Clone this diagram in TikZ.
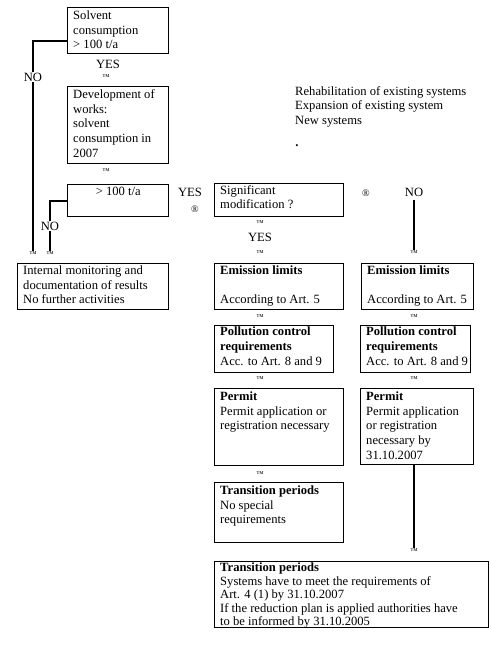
\documentclass[tikz,border=0pt]{standalone}
\usepackage{fontspec}
\setmainfont{Liberation Serif}
\usetikzlibrary{positioning}

\begin{document}
\begin{tikzpicture}[x=1pt, y=-1pt,
    every node/.style={font=\fontsize{12.6}{14.7}\selectfont},
    bx/.style={draw, line width=1.4pt, anchor=north west, inner sep=0pt},
    txt/.style={anchor=north west, align=left, inner xsep=6pt, inner ysep=3.5pt, execute at begin node=\strut},
    lbl/.style={inner sep=1pt, fill=white},
    tm/.style={inner sep=0.5pt, font=\fontsize{7.5}{8}\selectfont},
    rg/.style={inner sep=0.5pt, font=\fontsize{10}{11}\selectfont},
    conn/.style={line width=1.7pt}]
  \useasboundingbox (0,0) rectangle (490,645);

  % left column
  \node[bx, minimum width=101, minimum height=46] (solvent) at (67,7) {};
  \node[txt] (solvent-t) at (solvent.north west) {Solvent\\consumption\\> 100 t/a};
  \node (yes1) at (108,64) {YES};
  \node[tm] (tm1) at (106,77) {™};
  \node[bx, minimum width=101, minimum height=77] (works) at (67,86) {};
  \node[txt] (works-t) at (works.north west) {Development of\\works:\\solvent\\consumption in\\2007};
  \node[tm] (tm2) at (106,171) {™};
  \node[bx, minimum width=101, minimum height=32] (limit) at (67,184) {};
  \node[anchor=north, inner ysep=1.5pt, execute at begin node=\strut] (limit-t) at (limit.north) {> 100 t/a};
  \node[bx, minimum width=151, minimum height=46] (internal) at (17,263) {};
  \node[txt, inner ysep=2.5pt] (internal-t) at (internal.north west) {Internal monitoring and\\documentation of results\\No further activities};

  \node[tm] (tm3) at (33,254) {™};
  \node[tm] (tm4) at (50,254) {™};
  \draw[conn] ([yshift=-10pt]solvent.west) -| (tm3.north);
  \node[lbl] (no1) at (33,77) {NO};
  \draw[conn] (limit.west) -| (tm4.north);
  \node[lbl] (no2) at (50,226) {NO};
  \node (yes2) at (190,192) {YES};
  \node[rg] (rg1) at (195,209) {®};

  % right columns
  \node[txt, inner sep=0pt] (kinds) at (295,86) {Rehabilitation of existing systems\\Expansion of existing system\\New systems};
  \node (dot) at (297,146) {\textbf{.}};
  \node[bx, minimum width=129, minimum height=33] (signif) at (214,183) {};
  \node[txt, inner ysep=2pt] (signif-t) at (signif.north west) {Significant\\modification ?};
  \node[rg] (rg2) at (366,193) {®};
  \node (no3) at (414,192) {NO};
  \node[tm] (tm5) at (260,223) {™};
  \node (yes3) at (260,237) {YES};
  \node[tm] (tm6) at (260,253) {™};
  \node[tm] (tm7) at (414,253) {™};
  \draw[conn] (no3.south) -- (tm7.north);

  \node[bx, minimum width=129, minimum height=46] (emis1) at (214,263) {};
  \node[txt, inner ysep=2.5pt] (emis1-t) at (emis1.north west) {\textbf{Emission limits}\\\strut\\According to Art. 5};
  \node[bx, minimum width=112, minimum height=46] (emis2) at (361,263) {};
  \node[txt, inner ysep=2.5pt] (emis2-t) at (emis2.north west) {\textbf{Emission limits}\\\strut\\According to Art. 5};
  \node[tm] (tm8) at (260,317) {™};
  \node[tm] (tm9) at (414,317) {™};
  \node[bx, minimum width=119, minimum height=47] (poll1) at (214,325) {};
  \node[txt, inner ysep=2pt] (poll1-t) at (poll1.north west) {\textbf{Pollution control}\\\textbf{requirements}\\Acc. to Art. 8 and 9};
  \node[bx, minimum width=110, minimum height=47] (poll2) at (360,325) {};
  \node[txt, inner ysep=2pt] (poll2-t) at (poll2.north west) {\textbf{Pollution control}\\\textbf{requirements}\\Acc. to Art. 8 and 9};
  \node[tm] (tm10) at (260,379) {™};
  \node[tm] (tm11) at (414,379) {™};
  \node[bx, minimum width=129, minimum height=77] (perm1) at (214,388) {};
  \node[txt] (perm1-t) at (perm1.north west) {\textbf{Permit}\\Permit application or\\registration necessary};
  \node[bx, minimum width=113, minimum height=76] (perm2) at (360,388) {};
  \node[txt] (perm2-t) at (perm2.north west) {\textbf{Permit}\\Permit application\\or registration\\necessary by\\31.10.2007};
  \node[tm] (tm12) at (260,474) {™};
  \node[bx, minimum width=129, minimum height=60] (trans1) at (214,482) {};
  \node[txt] (trans1-t) at (trans1.north west) {\textbf{Transition periods}\\No special\\requirements};
  \node[tm] (tm13) at (414,551) {™};
  \draw[conn] (tm13.north |- perm2.south) -- (tm13.north);
  \node[bx, minimum width=274, minimum height=66] (trans2) at (214,561) {};
  \node[txt, inner ysep=2pt, font=\fontsize{12.6}{13.4}\selectfont] (trans2-t) at (trans2.north west) {\textbf{Transition periods}\\Systems have to meet the requirements of\\Art. 4 (1) by 31.10.2007\\If the reduction plan is applied authorities have\\to be informed by 31.10.2005};
\end{tikzpicture}
\end{document}
